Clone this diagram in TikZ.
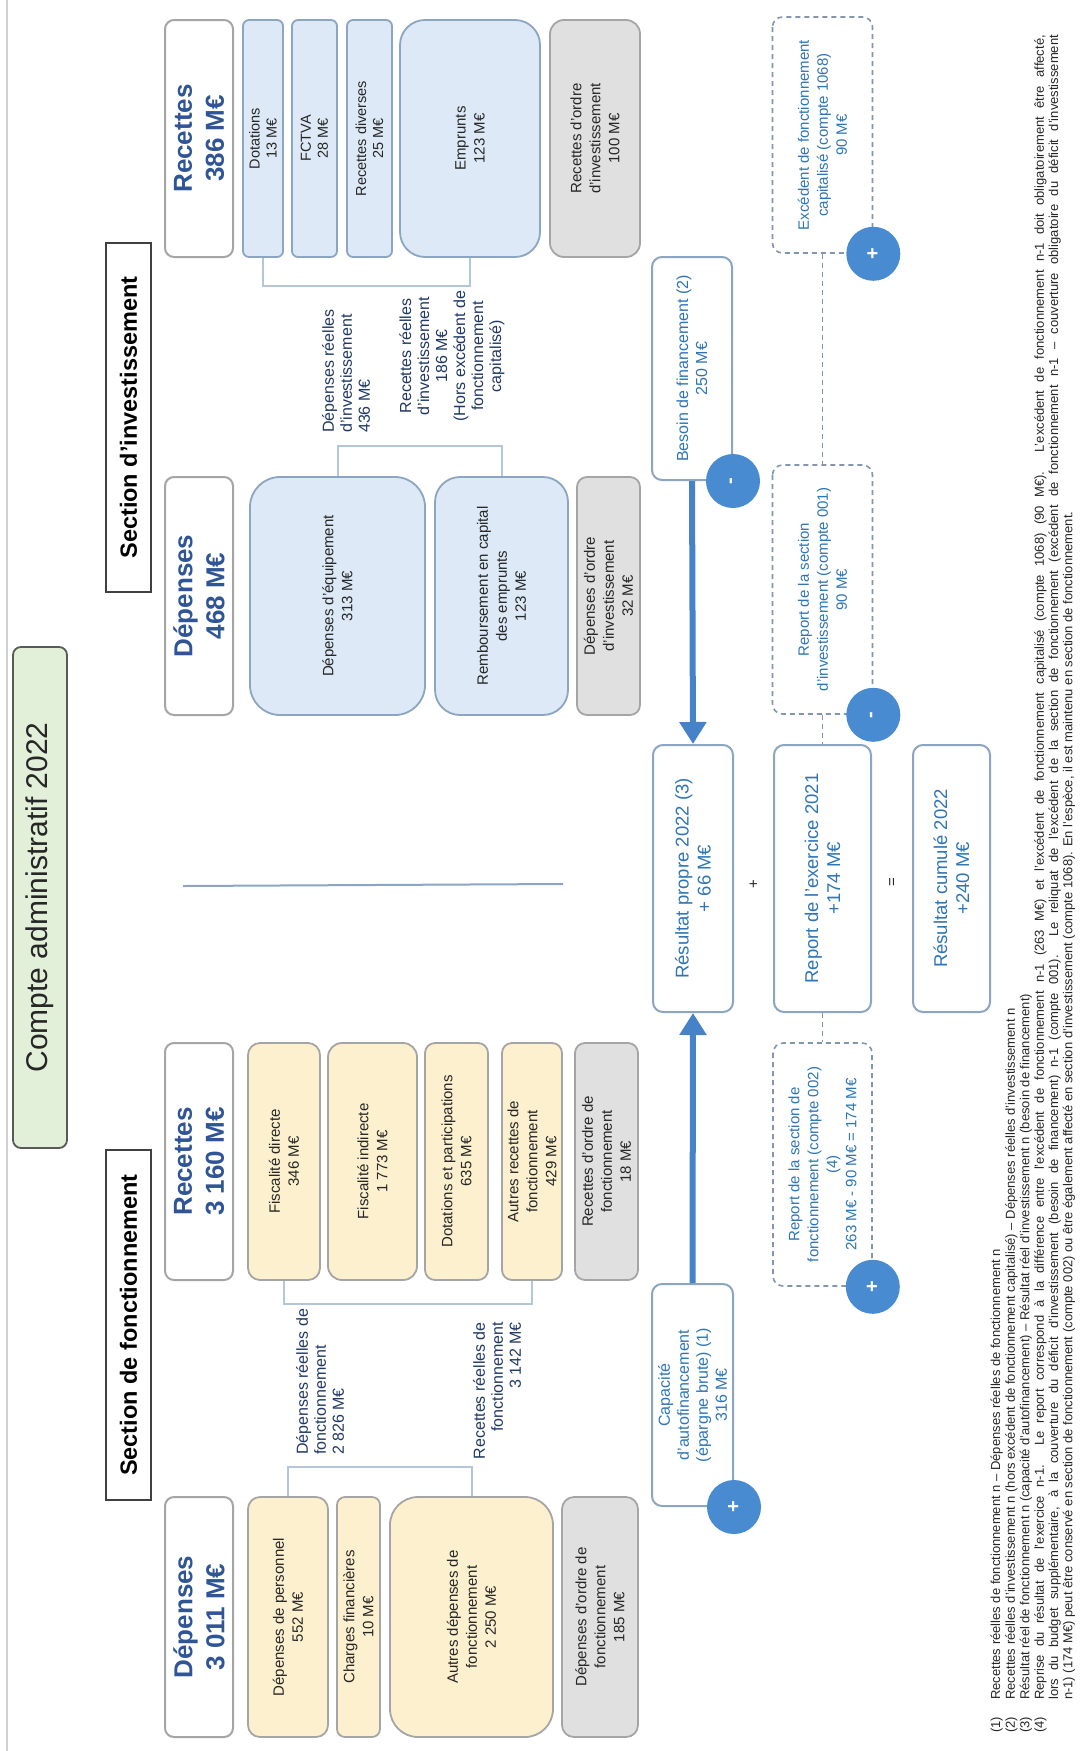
\documentclass[tikz,border=0pt]{standalone}
\usepackage{fontspec}
\setmainfont{Liberation Sans}
\usetikzlibrary{arrows.meta,calc}
\definecolor{hdblue}{RGB}{47,85,151}
\definecolor{navy}{RGB}{31,56,100}
\definecolor{midblue}{RGB}{46,117,182}
\definecolor{circblue}{RGB}{72,139,208}
\definecolor{arrblue}{RGB}{70,130,200}
\definecolor{yel}{RGB}{253,240,206}
\definecolor{lblue}{RGB}{221,233,246}
\definecolor{lgrey}{RGB}{224,224,224}
\definecolor{bordgrey}{RGB}{165,165,165}
\definecolor{bordblue}{RGB}{140,165,192}
\definecolor{brk}{RGB}{180,198,218}
\definecolor{sepc}{RGB}{140,165,195}
\definecolor{tgreen}{RGB}{226,240,217}
\definecolor{txt}{RGB}{38,38,38}
\definecolor{dashc}{RGB}{130,150,175}
\tikzset{
  rot/.style={rotate=90, inner sep=0pt, align=center},
  sz/.style 2 args={minimum width=#1pt, minimum height=#2pt},
  colbox/.style={rot, draw=bordgrey, line width=1.8pt, text=txt, font=\fontsize{15}{19}\selectfont},
  yelbox/.style={colbox, fill=yel},
  bluebox/.style={colbox, fill=lblue, draw=bordblue},
  greybox/.style={colbox, fill=lgrey},
  headbox/.style={rot, draw=bordgrey, fill=white, line width=2pt, rounded corners=9pt, text=hdblue, font=\bfseries\fontsize{26}{32}\selectfont},
  sect/.style={rot, draw=black!75, fill=white, line width=1.8pt, text=black, font=\bfseries\fontsize{23.5}{26}\selectfont},
  lbl/.style={rot, text=navy, font=\fontsize{16}{18}\selectfont},
  resbox/.style={rot, draw=bordblue, fill=white, line width=2pt, rounded corners=10pt, text=midblue, font=\fontsize{16}{19}\selectfont},
  bigres/.style={resbox, font=\fontsize{18.5}{22}\selectfont},
  dbox/.style={rot, draw=dashc, fill=white, line width=1.6pt, dash pattern=on 5pt off 4pt, rounded corners=10pt, text=midblue, font=\fontsize{15}{19}\selectfont},
  circ/.style={circle, rotate=90, fill=circblue, minimum size=54pt, inner sep=0pt, text=white, font=\bfseries\fontsize{20}{20}\selectfont},
  brkline/.style={draw=brk, line width=2pt},
  bigarr/.style={draw=arrblue, line width=6pt, -{Triangle[width=26pt,length=22pt]}},
  dcon/.style={draw=dashc, line width=1.4pt, dash pattern=on 5pt off 4pt},
  fn/.style={rotate=90, inner sep=0pt, text=txt, font=\fontsize{13}{14.2}\selectfont},
}
\begin{document}
\begin{tikzpicture}[x=1pt,y=-1pt]
\useasboundingbox (0,0) rectangle (1085,1751);
\fill[white] (0,0) rectangle (1085,1751);
% frame line
\coordinate (fr1) at (7,0);
\coordinate (fr2) at (7,1751);
\draw[black!18, line width=2pt] (fr1) -- (fr2);

% title and section headers
\node[rot, sz={501}{54}, draw=black!65, fill=tgreen, line width=1.8pt, rounded corners=8pt, text=txt, font=\fontsize{30}{32}\selectfont] (title) at (40,897.5) {Compte administratif 2022};
\node[sect, sz={350}{45}] (sf) at (128.5,1325) {Section de fonctionnement};
\node[sect, sz={349}{45}] (si) at (128.5,417.5) {Section d'investissement};

% separator
\coordinate (sp1) at (183,886);
\coordinate (sp2) at (563,884);
\draw[sepc, line width=2pt] (sp1) -- (sp2);

% header boxes
\node[headbox, sz={240}{68}] (hd1) at (199,1617) {Dépenses\\3 011 M€};
\node[headbox, sz={237}{68}] (hr1) at (199,1161.5) {Recettes\\3 160 M€};
\node[headbox, sz={238}{68}] (hd2) at (199,596) {Dépenses\\468 M€};
\node[headbox, sz={237}{68}] (hr2) at (199,138.5) {Recettes\\386 M€};

% fonctionnement depenses
\node[yelbox, sz={240}{80}, rounded corners=12pt] (pers) at (288,1617) {Dépenses de personnel\\552 M€};
\node[yelbox, sz={240}{43}, rounded corners=8pt] (chf) at (358.5,1617) {Charges financières\\10 M€};
\node[yelbox, sz={240}{163}, rounded corners=28pt] (autd) at (471.5,1617) {Autres dépenses de\\fonctionnement\\2 250 M€};
\node[greybox, sz={240}{76}, rounded corners=12pt] (ordd) at (600,1617) {Dépenses d'ordre de\\fonctionnement\\185 M€};

% fonctionnement recettes
\node[yelbox, sz={237}{72}, rounded corners=12pt] (fisd) at (284,1161.5) {Fiscalité directe\\346 M€};
\node[yelbox, sz={237}{89}, rounded corners=14pt] (fisi) at (372.5,1161.5) {Fiscalité indirecte\\1 773 M€};
\node[yelbox, sz={237}{63}, rounded corners=10pt] (dotp) at (456.5,1161.5) {Dotations et participations\\635 M€};
\node[yelbox, sz={237}{60}, rounded corners=10pt] (autr) at (532,1161.5) {Autres recettes de\\fonctionnement\\429 M€};
\node[greybox, sz={237}{63}, rounded corners=10pt] (ordr) at (606.5,1161.5) {Recettes d'ordre de\\fonctionnement\\18 M€};

% investissement depenses
\node[bluebox, sz={238}{175}, rounded corners=30pt] (equip) at (337.5,596) {Dépenses d'équipement\\313 M€};
\node[bluebox, sz={238}{133}, rounded corners=25pt] (remb) at (501.5,596) {Remboursement en capital\\des emprunts\\123 M€};
\node[greybox, sz={238}{63}, rounded corners=10pt] (ordid) at (608.5,596) {Dépenses d'ordre\\d'investissement\\32 M€};

% investissement recettes
\node[bluebox, sz={237}{40}, rounded corners=6pt, font=\fontsize{14.5}{17}\selectfont] (dotat) at (263,138.5) {Dotations\\13 M€};
\node[bluebox, sz={237}{45}, rounded corners=6pt, font=\fontsize{14.5}{17}\selectfont] (fctva) at (314.5,138.5) {FCTVA\\28 M€};
\node[bluebox, sz={237}{45}, rounded corners=6pt, font=\fontsize{14.5}{17}\selectfont] (rdiv) at (369.5,138.5) {Recettes diverses\\25 M€};
\node[bluebox, sz={237}{140}, rounded corners=25pt] (empr) at (470,138.5) {Emprunts\\123 M€};
\node[greybox, sz={237}{90}, rounded corners=14pt] (ordir) at (595,138.5) {Recettes d'ordre\\d'investissement\\100 M€};

% brackets
\draw[brkline] (pers.east) -- ++(0,-29) -| (autd.east);
\draw[brkline] (fisd.west) -- ++(0,23) -| (autr.west);
\draw[brkline] (equip.east) -- ++(0,-30) -| (remb.east);
\draw[brkline] (dotat.west) -- ++(0,28) -| (empr.west);

% bracket labels
\node[lbl, align=left, anchor=west] (lfd) at (320,1455) {Dépenses réelles de\\fonctionnement\\2 826 M€};
\node[lbl, align=right, anchor=east] (lfr) at (497,1322) {Recettes réelles de\\fonctionnement\\3 142 M€};
\node[lbl, align=left, anchor=west] (lid) at (346,433) {Dépenses réelles\\d'investissement\\436 M€};
\node[lbl, align=center] (lir) at (452,356) {Recettes réelles\\d'investissement\\186 M€\\(Hors excédent de\\fonctionnement\\capitalisé)};

% result boxes
\node[resbox, sz={222}{81}] (cap) at (692.5,1395) {Capacité\\d'autofinancement\\(épargne brute) (1)\\316 M€};
\node[bigres, sz={267}{80}] (res) at (693,878.5) {Résultat propre 2022 (3)\\+ 66 M€};
\node[resbox, sz={223}{80}] (bes) at (692,368.5) {Besoin de financement (2)\\250 M€};
\node[bigres, sz={267}{97}] (rep) at (822.5,878.5) {Report de l'exercice 2021\\+174 M€};
\node[bigres, sz={267}{77}] (cum) at (951.5,878.5) {Résultat cumulé 2022\\+240 M€};
\node[dbox, sz={243}{99}] (rf) at (822.5,1164.5) {Report de la section de\\fonctionnement (compte 002)\\(4)\\263 M€ - 90 M€ = 174 M€};
\node[dbox, sz={249}{100}] (ri) at (822.5,589.5) {Report de la section\\d'investissement (compte 001)\\90 M€};
\node[dbox, sz={236}{100}] (exc) at (822.5,135) {Excédent de fonctionnement\\capitalisé (compte 1068)\\90 M€};

% connectors
\draw[bigarr] (cap.east) -- (res.west);
\draw[bigarr] (bes.west) -- (res.east);
\draw[dcon] (exc.west) -- (ri.east);
\draw[dcon] (ri.west) -- (rep.east);
\draw[dcon] (rep.west) -- (rf.east);

% signs
\node[rot, text=txt, font=\fontsize{15}{15}\selectfont] (plus) at (754,884) {+};
\node[rot, text=txt, font=\fontsize{15}{15}\selectfont] (eq) at (893,882) {=};

% circles
\node[circ] (c1) at (cap.south west) {+};
\node[circ] (c2) at (rf.south west) {+};
\node[circ] (c3) at (bes.south west) {-};
\node[circ] (c4) at (ri.south west) {-};
\node[circ] (c5) at (exc.south west) {+};

% footnotes
\node[fn, anchor=north west] (f1) at (990,1700) {\parbox[t]{1665pt}{\strut Recettes réelles de fonctionnement n – Dépenses réelles de fonctionnement n}};
\node[fn, anchor=north west] (f2) at (f1.south west) {\parbox[t]{1665pt}{\strut Recettes réelles d'investissement n (hors excédent de fonctionnement capitalisé) – Dépenses réelles d'investissement n}};
\node[fn, anchor=north west] (f3) at (f2.south west) {\parbox[t]{1665pt}{\strut Résultat réel de fonctionnement n (capacité d'autofinancement) – Résultat réel d'investissement n (besoin de financement)}};
\node[fn, anchor=north west] (f4) at (f3.south west) {\parbox[t]{1665pt}{\strut Reprise du résultat de l'exercice n-1. Le report correspond à la différence entre l'excédent de fonctionnement n-1 (263 M€) et l'excédent de fonctionnement capitalisé (compte 1068) (90 M€). L'excédent de fonctionnement n-1 doit obligatoirement être affecté,\linebreak lors du budget supplémentaire, à la couverture du déficit d'investissement (besoin de financement) n-1 (compte 001). Le reliquat de l'excédent de la section de fonctionnement (excédent de fonctionnement n-1 – couverture obligatoire du déficit d'investissement\linebreak n-1) (174 M€) peut être conservé en section de fonctionnement (compte 002) ou être également affecté en section d'investissement (compte 1068). En l'espèce, il est maintenu en section de fonctionnement.}};
\node[fn, anchor=north west] (n1) at ($(f1.north west)+(0,33)$) {\strut(1)};
\node[fn, anchor=north west] (n2) at ($(f2.north west)+(0,33)$) {\strut(2)};
\node[fn, anchor=north west] (n3) at ($(f3.north west)+(0,33)$) {\strut(3)};
\node[fn, anchor=north west] (n4) at ($(f4.north west)+(0,33)$) {\strut(4)};
\end{tikzpicture}
\end{document}
